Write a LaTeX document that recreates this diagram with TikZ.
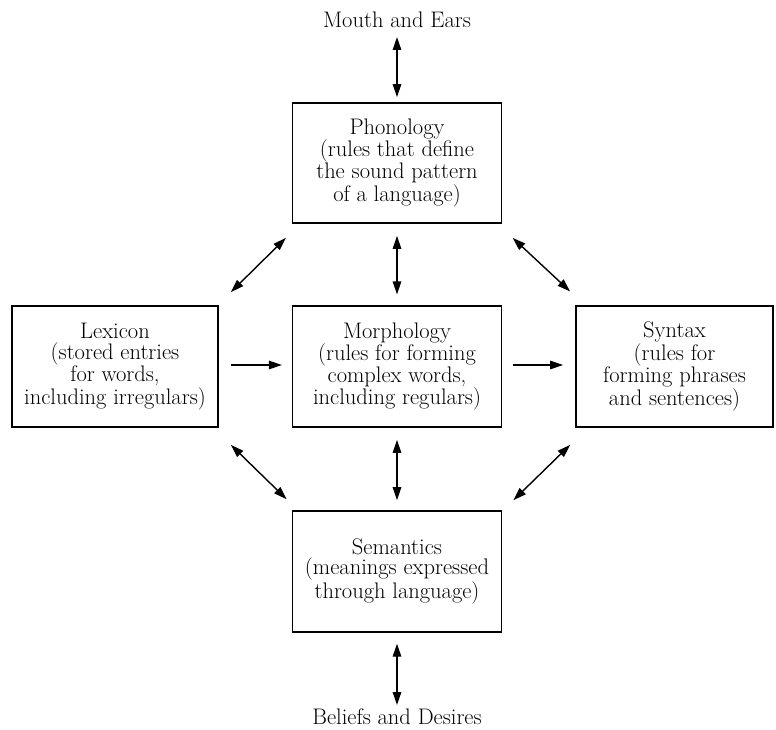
\documentclass[tikz,border=0pt]{standalone}
\usetikzlibrary{arrows.meta}
\begin{document}
\begin{tikzpicture}[x=1pt,y=1pt,
  box/.style={draw=black, line width=1.8pt, minimum height=121pt, align=center, inner sep=0pt,
    font=\fontsize{22.5}{20.7}\selectfont},
  lbl/.style={inner sep=0pt, anchor=base, font=\fontsize{22.5}{20.7}\selectfont},
  dbl/.style={line width=1.4pt, {Triangle[length=13pt,width=8.5pt]}-{Triangle[length=13pt,width=8.5pt]}},
  one/.style={line width=1.4pt, -{Triangle[length=13pt,width=8.5pt]}}]
\useasboundingbox (0,0) rectangle (776,729);

\node[lbl] (mouth) at (397,701) {Mouth and Ears};
\node[lbl] (beliefs) at (397,5) {Beliefs and Desires};

\node[box, minimum width=209pt, minimum height=120pt] (phon) at (397,566.3)
  {Phonology\\(rules that define\\the sound pattern\\of a language)};
\node[box, minimum width=206.6pt] (lex) at (115,362.5)
  {Lexicon\\(stored entries\\for words,\\including irregulars)};
\node[box, minimum width=209pt] (morph) at (397,362.5)
  {Morphology\\(rules for forming\\complex words,\\including regulars)};
\node[box, minimum width=197pt] (syn) at (674.5,362.5)
  {Syntax\\(rules for\\forming phrases\\and sentences)};
\node[box, minimum width=209pt] (sem) at (397,157.7)
  {Semantics\\(meanings expressed\\through language)};

% vertical arrows
\draw[dbl] ([yshift=-9pt]mouth.base) -- ([yshift=4.7pt]phon.north);
\draw[dbl] ([yshift=-12.3pt]phon.south) -- ([yshift=10.7pt]morph.north);
\draw[dbl] ([yshift=-12pt]morph.south) -- ([yshift=9.7pt]sem.north);
\draw[dbl] ([yshift=-11pt]sem.south) -- ([yshift=19pt]beliefs.base);

% horizontal arrows
\draw[one] ([xshift=11.7pt,yshift=1.5pt]lex.east) -- ([xshift=-9.7pt,yshift=1.5pt]morph.west);
\draw[one] ([xshift=11pt,yshift=1.5pt]morph.east) -- ([xshift=-12pt,yshift=1.5pt]syn.west);

% diagonal arrows
\draw[dbl] ([shift={(11.7pt,13pt)}]lex.north east) -- ([shift={(-5.7pt,-14.3pt)}]phon.south west);
\draw[dbl] ([shift={(10.3pt,-14.3pt)}]phon.south east) -- ([shift={(-5pt,13.7pt)}]syn.north west);
\draw[dbl] ([shift={(11.7pt,-17pt)}]lex.south east) -- ([shift={(-5pt,10.7pt)}]sem.north west);
\draw[dbl] ([shift={(-5pt,-17pt)}]syn.south west) -- ([shift={(11pt,9.7pt)}]sem.north east);
\end{tikzpicture}
\end{document}
